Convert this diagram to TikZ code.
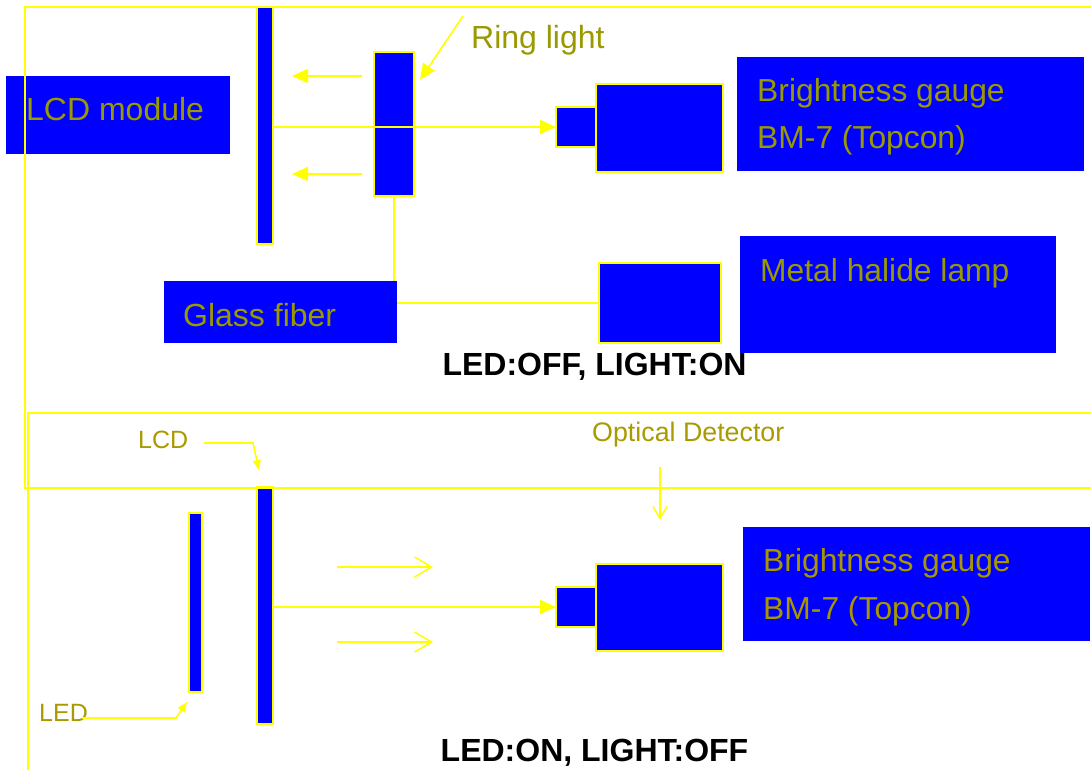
\documentclass[tikz,border=0pt]{standalone}
\usepackage{fontspec}
\setmainfont{Liberation Sans}
\usetikzlibrary{arrows.meta}
\definecolor{bblue}{HTML}{0000FF}
\definecolor{yel}{HTML}{FFFF00}
\definecolor{oliv}{HTML}{999900}
\definecolor{gold}{HTML}{A89600}
\definecolor{lbl}{HTML}{AA9A00}
\tikzset{
  plate/.style={draw=yel, line width=1.5pt, fill=bblue, inner sep=0pt, outer sep=0pt, anchor=north west},
  infobox/.style={fill=bblue, inner sep=0pt, outer sep=0pt, anchor=north west},
  bigtxt/.style={text=oliv, inner sep=0pt, anchor=base west, font=\fontsize{32}{36}\selectfont},
  goldtxt/.style={text=gold, inner sep=0pt, anchor=base west, font=\fontsize{31.8}{36}\selectfont},
  smalltxt/.style={text=lbl, inner sep=0pt, anchor=base west, font=\fontsize{25}{30}\selectfont},
  title/.style={text=black, inner sep=0pt, anchor=base, font=\bfseries\fontsize{32}{36}\selectfont},
  yline/.style={draw=yel, line width=1.6pt},
  farrow/.style={yline, -{Triangle[length=16pt,width=14pt]}},
  sarrow/.style={yline, -{Triangle[length=10pt,width=8pt]}},
  oarrow/.style={yline, -{Straight Barb[length=17pt,width=20pt,line width=1.5pt]}},
  odarrow/.style={yline, -{Straight Barb[length=12pt,width=14pt,line width=1.5pt]}},
}
\begin{document}
\begin{tikzpicture}[x=1pt,y=-1pt]
\clip (0,0) rectangle (1091,770);
\fill[white] (0,0) rectangle (1091,770);
% ---------- top section ----------
\node[infobox, minimum width=224pt, minimum height=78pt] (lcdm) at (6,76) {};
\node[infobox, minimum width=347pt, minimum height=114pt] (bg1) at (737,57) {};
\node[infobox, minimum width=316pt, minimum height=117pt] (mhl) at (740,236) {};
\node[plate, minimum width=40pt, minimum height=75pt] (ringA) at (374,52) {};
\node[plate, minimum width=40pt, minimum height=69pt] (ringB) at (374,127) {};
\node[plate, minimum width=122pt, minimum height=80pt] (lamp) at (599,263) {};
\draw[yline] (ringB.south) |- (lamp.west);
\node[infobox, minimum width=233pt, minimum height=62pt] (gf) at (164,281) {};
\node[plate, minimum width=16pt, minimum height=237pt] (lcd1) at (257,7) {};
\node[plate, minimum width=40pt, minimum height=40pt] (sens1) at (556,107) {};
\node[plate, minimum width=127pt, minimum height=88pt] (gauge1) at (596,84) {};
\draw[farrow] (lcd1.east |- sens1.west) -- (sens1.west);
\coordinate (la1s) at (362,76);
\coordinate (la1e) at (292,76);
\coordinate (la2s) at (362,174);
\coordinate (la2e) at (292,174);
\draw[farrow] (la1s) -- (la1e);
\draw[farrow] (la2s) -- (la2e);
\coordinate (rls) at (463,16);
\coordinate (rle) at (420,80);
\draw[farrow] (rls) -- (rle);
\node[bigtxt] (tlcdm) at (26,121) {LCD module};
\node[bigtxt] (tring) at (471,49) {Ring light};
\node[bigtxt] (tgf) at (183,326) {Glass fiber};
\node[goldtxt, text=oliv] (tbg1a) at (757,102) {Brightness gauge};
\node[goldtxt, text=oliv] (tbg1b) at (757,149) {BM-7 (Topcon)};
\node[goldtxt, text=oliv] (tmhl) at (760,281) {Metal halide lamp};
\node[title] (t1) at (594.5,375) {LED:OFF, LIGHT:ON};
% ---------- bottom section ----------
\node[infobox, minimum width=347pt, minimum height=114pt] (bg2) at (743,527) {};
\node[plate, minimum width=13pt, minimum height=179pt] (led) at (189,513) {};
\node[plate, minimum width=16pt, minimum height=237pt] (lcd2) at (257,487) {};
\node[plate, minimum width=40pt, minimum height=40pt] (sens2) at (556,587) {};
\node[plate, minimum width=127pt, minimum height=87pt] (gauge2) at (596,564) {};
\draw[farrow] (lcd2.east |- sens2.west) -- (sens2.west);
\coordinate (ra1s) at (337,567);
\coordinate (ra1e) at (433,567);
\coordinate (ra2s) at (337,642);
\coordinate (ra2e) at (433,642);
\draw[oarrow] (ra1s) -- (ra1e);
\draw[oarrow] (ra2s) -- (ra2e);
% frames
\draw[yline] (1100,7) -- (25,7) -- (25,488) -- (1100,488);
\draw[yline] (1100,413) -- (28,413) -- (28,780);
\node[smalltxt] (tlcd) at (138,448) {LCD};
\node[smalltxt] (tled) at (39,721) {LED};
\node[smalltxt, font=\fontsize{26.8}{30}\selectfont] (topt) at (592,441) {Optical Detector};
\coordinate (lcdas) at (204,443);
\coordinate (lcdab) at (253,443);
\coordinate (lcdae) at (259,470);
\draw[sarrow] (lcdas) -- (lcdab) -- (lcdae);
\coordinate (ledas) at (82,718);
\coordinate (ledab) at (176,718);
\coordinate (ledae) at (187,702);
\draw[sarrow] (ledas) -- (ledab) -- (ledae);
\coordinate (odas) at (660,467);
\coordinate (odae) at (660,520);
\draw[odarrow] (odas) -- (odae);
\node[goldtxt] (tbg2a) at (763,571) {Brightness gauge};
\node[goldtxt] (tbg2b) at (763,619) {BM-7 (Topcon)};
\node[title] (t2) at (594.5,761) {LED:ON, LIGHT:OFF};
\end{tikzpicture}
\end{document}
